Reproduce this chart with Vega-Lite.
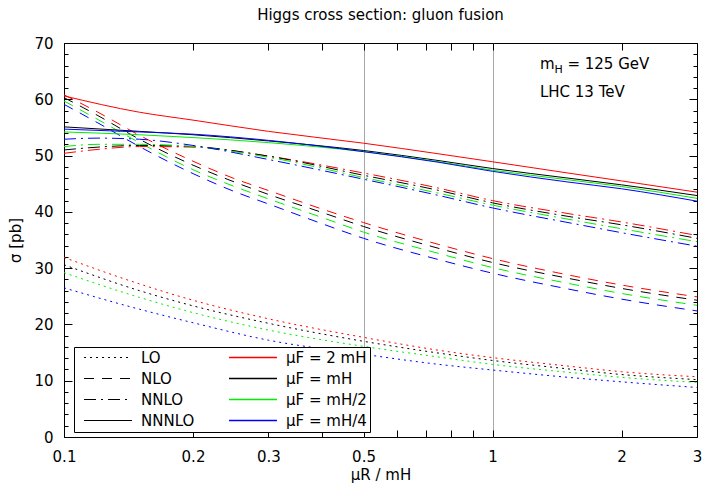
{
  "$schema": "https://vega.github.io/schema/vega-lite/v6.json",
  "width": 633,
  "height": 394,
  "autosize": {"type": "none"},
  "padding": {"left": 64, "top": 43, "right": 8, "bottom": 49},
  "title": {"text": "Higgs cross section: gluon fusion", "fontSize": 15, "font": "DejaVu Sans", "fontWeight": "normal", "color": "black", "offset": 13, "anchor": "middle"},
  "config": {
    "font": "DejaVu Sans",
    "view": {"stroke": "black", "strokeWidth": 1},
    "axis": {"grid": false, "domain": false, "tickColor": "black", "labelColor": "black", "labelFontSize": 15, "labelFont": "DejaVu Sans", "titleFont": "DejaVu Sans", "titleFontSize": 15, "titleFontWeight": "normal", "titleColor": "black", "labelFlush": false, "labelOverlap": false, "labelBound": false, "tickWidth": 1}
  },
  "data": {"values": [
    {"mu":0.1,"sigma":31.9,"order":"LO","muF":"μF = 2 mH"},{"mu":0.15,"sigma":27.2,"order":"LO","muF":"μF = 2 mH"},{"mu":0.2,"sigma":24.3,"order":"LO","muF":"μF = 2 mH"},{"mu":0.3,"sigma":21.0,"order":"LO","muF":"μF = 2 mH"},{"mu":0.5,"sigma":17.7,"order":"LO","muF":"μF = 2 mH"},{"mu":0.75,"sigma":15.4,"order":"LO","muF":"μF = 2 mH"},{"mu":1,"sigma":14.1,"order":"LO","muF":"μF = 2 mH"},{"mu":1.5,"sigma":12.6,"order":"LO","muF":"μF = 2 mH"},{"mu":2,"sigma":11.6,"order":"LO","muF":"μF = 2 mH"},{"mu":3,"sigma":10.7,"order":"LO","muF":"μF = 2 mH"},
    {"mu":0.1,"sigma":30.6,"order":"LO","muF":"μF = mH"},{"mu":0.15,"sigma":26.0,"order":"LO","muF":"μF = mH"},{"mu":0.2,"sigma":23.3,"order":"LO","muF":"μF = mH"},{"mu":0.3,"sigma":20.2,"order":"LO","muF":"μF = mH"},{"mu":0.5,"sigma":17.0,"order":"LO","muF":"μF = mH"},{"mu":0.75,"sigma":14.9,"order":"LO","muF":"μF = mH"},{"mu":1,"sigma":13.6,"order":"LO","muF":"μF = mH"},{"mu":1.5,"sigma":12.1,"order":"LO","muF":"μF = mH"},{"mu":2,"sigma":11.1,"order":"LO","muF":"μF = mH"},{"mu":3,"sigma":10.2,"order":"LO","muF":"μF = mH"},
    {"mu":0.1,"sigma":29.2,"order":"LO","muF":"μF = mH/2"},{"mu":0.15,"sigma":24.8,"order":"LO","muF":"μF = mH/2"},{"mu":0.2,"sigma":22.1,"order":"LO","muF":"μF = mH/2"},{"mu":0.3,"sigma":19.0,"order":"LO","muF":"μF = mH/2"},{"mu":0.5,"sigma":16.1,"order":"LO","muF":"μF = mH/2"},{"mu":0.75,"sigma":14.2,"order":"LO","muF":"μF = mH/2"},{"mu":1,"sigma":12.9,"order":"LO","muF":"μF = mH/2"},{"mu":1.5,"sigma":11.5,"order":"LO","muF":"μF = mH/2"},{"mu":2,"sigma":10.6,"order":"LO","muF":"μF = mH/2"},{"mu":3,"sigma":9.7,"order":"LO","muF":"μF = mH/2"},
    {"mu":0.1,"sigma":26.5,"order":"LO","muF":"μF = mH/4"},{"mu":0.15,"sigma":22.7,"order":"LO","muF":"μF = mH/4"},{"mu":0.2,"sigma":20.3,"order":"LO","muF":"μF = mH/4"},{"mu":0.3,"sigma":17.2,"order":"LO","muF":"μF = mH/4"},{"mu":0.5,"sigma":14.7,"order":"LO","muF":"μF = mH/4"},{"mu":0.75,"sigma":12.9,"order":"LO","muF":"μF = mH/4"},{"mu":1,"sigma":11.9,"order":"LO","muF":"μF = mH/4"},{"mu":1.5,"sigma":10.6,"order":"LO","muF":"μF = mH/4"},{"mu":2,"sigma":9.8,"order":"LO","muF":"μF = mH/4"},{"mu":3,"sigma":8.8,"order":"LO","muF":"μF = mH/4"},

    {"mu":0.1,"sigma":60.8,"order":"NLO","muF":"μF = 2 mH"},{"mu":0.12,"sigma":57.7,"order":"NLO","muF":"μF = 2 mH"},{"mu":0.15,"sigma":53.6,"order":"NLO","muF":"μF = 2 mH"},{"mu":0.2,"sigma":49.0,"order":"NLO","muF":"μF = 2 mH"},{"mu":0.25,"sigma":45.9,"order":"NLO","muF":"μF = 2 mH"},{"mu":0.3,"sigma":43.8,"order":"NLO","muF":"μF = 2 mH"},{"mu":0.4,"sigma":40.5,"order":"NLO","muF":"μF = 2 mH"},{"mu":0.5,"sigma":38.1,"order":"NLO","muF":"μF = 2 mH"},{"mu":0.75,"sigma":34.2,"order":"NLO","muF":"μF = 2 mH"},{"mu":1,"sigma":31.7,"order":"NLO","muF":"μF = 2 mH"},{"mu":1.5,"sigma":28.8,"order":"NLO","muF":"μF = 2 mH"},{"mu":2,"sigma":27.0,"order":"NLO","muF":"μF = 2 mH"},{"mu":3,"sigma":24.9,"order":"NLO","muF":"μF = 2 mH"},
    {"mu":0.1,"sigma":60.3,"order":"NLO","muF":"μF = mH"},{"mu":0.12,"sigma":57.1,"order":"NLO","muF":"μF = mH"},{"mu":0.15,"sigma":52.9,"order":"NLO","muF":"μF = mH"},{"mu":0.2,"sigma":48.3,"order":"NLO","muF":"μF = mH"},{"mu":0.25,"sigma":45.3,"order":"NLO","muF":"μF = mH"},{"mu":0.3,"sigma":43.1,"order":"NLO","muF":"μF = mH"},{"mu":0.4,"sigma":39.9,"order":"NLO","muF":"μF = mH"},{"mu":0.5,"sigma":37.4,"order":"NLO","muF":"μF = mH"},{"mu":0.75,"sigma":33.5,"order":"NLO","muF":"μF = mH"},{"mu":1,"sigma":31.0,"order":"NLO","muF":"μF = mH"},{"mu":1.5,"sigma":28.2,"order":"NLO","muF":"μF = mH"},{"mu":2,"sigma":26.4,"order":"NLO","muF":"μF = mH"},{"mu":3,"sigma":24.3,"order":"NLO","muF":"μF = mH"},
    {"mu":0.1,"sigma":59.7,"order":"NLO","muF":"μF = mH/2"},{"mu":0.12,"sigma":56.4,"order":"NLO","muF":"μF = mH/2"},{"mu":0.15,"sigma":52.3,"order":"NLO","muF":"μF = mH/2"},{"mu":0.2,"sigma":47.5,"order":"NLO","muF":"μF = mH/2"},{"mu":0.25,"sigma":44.5,"order":"NLO","muF":"μF = mH/2"},{"mu":0.3,"sigma":42.3,"order":"NLO","muF":"μF = mH/2"},{"mu":0.4,"sigma":39.0,"order":"NLO","muF":"μF = mH/2"},{"mu":0.5,"sigma":36.4,"order":"NLO","muF":"μF = mH/2"},{"mu":0.75,"sigma":32.6,"order":"NLO","muF":"μF = mH/2"},{"mu":1,"sigma":30.1,"order":"NLO","muF":"μF = mH/2"},{"mu":1.5,"sigma":27.3,"order":"NLO","muF":"μF = mH/2"},{"mu":2,"sigma":25.5,"order":"NLO","muF":"μF = mH/2"},{"mu":3,"sigma":23.4,"order":"NLO","muF":"μF = mH/2"},
    {"mu":0.1,"sigma":59.1,"order":"NLO","muF":"μF = mH/4"},{"mu":0.12,"sigma":55.8,"order":"NLO","muF":"μF = mH/4"},{"mu":0.15,"sigma":51.6,"order":"NLO","muF":"μF = mH/4"},{"mu":0.2,"sigma":46.8,"order":"NLO","muF":"μF = mH/4"},{"mu":0.25,"sigma":43.6,"order":"NLO","muF":"μF = mH/4"},{"mu":0.3,"sigma":41.4,"order":"NLO","muF":"μF = mH/4"},{"mu":0.4,"sigma":37.9,"order":"NLO","muF":"μF = mH/4"},{"mu":0.5,"sigma":35.3,"order":"NLO","muF":"μF = mH/4"},{"mu":0.75,"sigma":31.5,"order":"NLO","muF":"μF = mH/4"},{"mu":1,"sigma":29.1,"order":"NLO","muF":"μF = mH/4"},{"mu":1.5,"sigma":26.3,"order":"NLO","muF":"μF = mH/4"},{"mu":2,"sigma":24.5,"order":"NLO","muF":"μF = mH/4"},{"mu":3,"sigma":22.4,"order":"NLO","muF":"μF = mH/4"},

    {"mu":0.1,"sigma":50.4,"order":"NNLO","muF":"μF = 2 mH"},{"mu":0.12,"sigma":51.1,"order":"NNLO","muF":"μF = 2 mH"},{"mu":0.15,"sigma":51.6,"order":"NNLO","muF":"μF = 2 mH"},{"mu":0.2,"sigma":51.5,"order":"NNLO","muF":"μF = 2 mH"},{"mu":0.3,"sigma":49.9,"order":"NNLO","muF":"μF = 2 mH"},{"mu":0.5,"sigma":46.9,"order":"NNLO","muF":"μF = 2 mH"},{"mu":0.75,"sigma":44.2,"order":"NNLO","muF":"μF = 2 mH"},{"mu":1,"sigma":42.0,"order":"NNLO","muF":"μF = 2 mH"},{"mu":1.5,"sigma":39.7,"order":"NNLO","muF":"μF = 2 mH"},{"mu":2,"sigma":38.2,"order":"NNLO","muF":"μF = 2 mH"},{"mu":3,"sigma":35.8,"order":"NNLO","muF":"μF = 2 mH"},
    {"mu":0.1,"sigma":51.0,"order":"NNLO","muF":"μF = mH"},{"mu":0.12,"sigma":51.5,"order":"NNLO","muF":"μF = mH"},{"mu":0.15,"sigma":51.8,"order":"NNLO","muF":"μF = mH"},{"mu":0.2,"sigma":51.6,"order":"NNLO","muF":"μF = mH"},{"mu":0.3,"sigma":49.9,"order":"NNLO","muF":"μF = mH"},{"mu":0.5,"sigma":46.5,"order":"NNLO","muF":"μF = mH"},{"mu":0.75,"sigma":43.8,"order":"NNLO","muF":"μF = mH"},{"mu":1,"sigma":41.6,"order":"NNLO","muF":"μF = mH"},{"mu":1.5,"sigma":39.2,"order":"NNLO","muF":"μF = mH"},{"mu":2,"sigma":37.7,"order":"NNLO","muF":"μF = mH"},{"mu":3,"sigma":35.3,"order":"NNLO","muF":"μF = mH"},
    {"mu":0.1,"sigma":51.6,"order":"NNLO","muF":"μF = mH/2"},{"mu":0.12,"sigma":52.0,"order":"NNLO","muF":"μF = mH/2"},{"mu":0.15,"sigma":52.0,"order":"NNLO","muF":"μF = mH/2"},{"mu":0.2,"sigma":51.6,"order":"NNLO","muF":"μF = mH/2"},{"mu":0.3,"sigma":49.7,"order":"NNLO","muF":"μF = mH/2"},{"mu":0.5,"sigma":46.1,"order":"NNLO","muF":"μF = mH/2"},{"mu":0.75,"sigma":43.3,"order":"NNLO","muF":"μF = mH/2"},{"mu":1,"sigma":41.2,"order":"NNLO","muF":"μF = mH/2"},{"mu":1.5,"sigma":38.7,"order":"NNLO","muF":"μF = mH/2"},{"mu":2,"sigma":37.0,"order":"NNLO","muF":"μF = mH/2"},{"mu":3,"sigma":34.7,"order":"NNLO","muF":"μF = mH/2"},
    {"mu":0.1,"sigma":52.9,"order":"NNLO","muF":"μF = mH/4"},{"mu":0.12,"sigma":53.1,"order":"NNLO","muF":"μF = mH/4"},{"mu":0.15,"sigma":52.9,"order":"NNLO","muF":"μF = mH/4"},{"mu":0.2,"sigma":51.8,"order":"NNLO","muF":"μF = mH/4"},{"mu":0.3,"sigma":49.3,"order":"NNLO","muF":"μF = mH/4"},{"mu":0.5,"sigma":45.8,"order":"NNLO","muF":"μF = mH/4"},{"mu":0.75,"sigma":42.9,"order":"NNLO","muF":"μF = mH/4"},{"mu":1,"sigma":40.7,"order":"NNLO","muF":"μF = mH/4"},{"mu":1.5,"sigma":38.1,"order":"NNLO","muF":"μF = mH/4"},{"mu":2,"sigma":36.3,"order":"NNLO","muF":"μF = mH/4"},{"mu":3,"sigma":33.9,"order":"NNLO","muF":"μF = mH/4"},

    {"mu":0.1,"sigma":60.6,"order":"NNNLO","muF":"μF = 2 mH"},{"mu":0.15,"sigma":57.7,"order":"NNNLO","muF":"μF = 2 mH"},{"mu":0.2,"sigma":56.3,"order":"NNNLO","muF":"μF = 2 mH"},{"mu":0.3,"sigma":54.3,"order":"NNNLO","muF":"μF = 2 mH"},{"mu":0.5,"sigma":52.2,"order":"NNNLO","muF":"μF = 2 mH"},{"mu":0.75,"sigma":50.3,"order":"NNNLO","muF":"μF = 2 mH"},{"mu":1,"sigma":48.9,"order":"NNNLO","muF":"μF = 2 mH"},{"mu":1.5,"sigma":46.9,"order":"NNNLO","muF":"μF = 2 mH"},{"mu":2,"sigma":45.5,"order":"NNNLO","muF":"μF = 2 mH"},{"mu":3,"sigma":43.5,"order":"NNNLO","muF":"μF = 2 mH"},
    {"mu":0.1,"sigma":55.1,"order":"NNNLO","muF":"μF = mH"},{"mu":0.15,"sigma":54.3,"order":"NNNLO","muF":"μF = mH"},{"mu":0.2,"sigma":53.7,"order":"NNNLO","muF":"μF = mH"},{"mu":0.3,"sigma":52.6,"order":"NNNLO","muF":"μF = mH"},{"mu":0.5,"sigma":50.9,"order":"NNNLO","muF":"μF = mH"},{"mu":0.75,"sigma":49.1,"order":"NNNLO","muF":"μF = mH"},{"mu":1,"sigma":47.7,"order":"NNNLO","muF":"μF = mH"},{"mu":1.5,"sigma":46.0,"order":"NNNLO","muF":"μF = mH"},{"mu":2,"sigma":44.8,"order":"NNNLO","muF":"μF = mH"},{"mu":3,"sigma":42.9,"order":"NNNLO","muF":"μF = mH"},
    {"mu":0.1,"sigma":54.2,"order":"NNNLO","muF":"μF = mH/2"},{"mu":0.15,"sigma":53.7,"order":"NNNLO","muF":"μF = mH/2"},{"mu":0.2,"sigma":53.2,"order":"NNNLO","muF":"μF = mH/2"},{"mu":0.3,"sigma":52.3,"order":"NNNLO","muF":"μF = mH/2"},{"mu":0.5,"sigma":50.7,"order":"NNNLO","muF":"μF = mH/2"},{"mu":0.75,"sigma":48.9,"order":"NNNLO","muF":"μF = mH/2"},{"mu":1,"sigma":47.4,"order":"NNNLO","muF":"μF = mH/2"},{"mu":1.5,"sigma":45.7,"order":"NNNLO","muF":"μF = mH/2"},{"mu":2,"sigma":44.5,"order":"NNNLO","muF":"μF = mH/2"},{"mu":3,"sigma":42.4,"order":"NNNLO","muF":"μF = mH/2"},
    {"mu":0.1,"sigma":54.7,"order":"NNNLO","muF":"μF = mH/4"},{"mu":0.15,"sigma":54.2,"order":"NNNLO","muF":"μF = mH/4"},{"mu":0.2,"sigma":53.8,"order":"NNNLO","muF":"μF = mH/4"},{"mu":0.3,"sigma":52.7,"order":"NNNLO","muF":"μF = mH/4"},{"mu":0.5,"sigma":50.7,"order":"NNNLO","muF":"μF = mH/4"},{"mu":0.75,"sigma":48.8,"order":"NNNLO","muF":"μF = mH/4"},{"mu":1,"sigma":47.2,"order":"NNNLO","muF":"μF = mH/4"},{"mu":1.5,"sigma":45.3,"order":"NNNLO","muF":"μF = mH/4"},{"mu":2,"sigma":44.1,"order":"NNNLO","muF":"μF = mH/4"},{"mu":3,"sigma":41.9,"order":"NNNLO","muF":"μF = mH/4"}
  ]},
  "layer": [
    {
      "mark": {"type": "line", "strokeWidth": 1, "interpolate": "monotone", "clip": true},
      "encoding": {
        "x": {"field": "mu", "type": "quantitative", "scale": {"type": "log", "domain": [0.1, 3], "nice": false},
              "axis": {"orient": "bottom", "values": [0.1,0.2,0.3,0.4,0.5,0.6,0.7,0.8,0.9,1,2,3], "format": "~g",
                       "labelExpr": "indexof([0.1,0.2,0.3,0.5,1,2,3], datum.value) >= 0 ? datum.label : ''",
                       "tickSize": -7, "labelPadding": 19, "title": "μR / mH", "titlePadding": 3}},
        "y": {"field": "sigma", "type": "quantitative", "scale": {"domain": [0, 70], "nice": false, "zero": true},
              "axis": {"orient": "left", "values": [0,10,20,30,40,50,60,70], "tickSize": -8, "labelPadding": 19, "title": "σ [pb]", "titlePadding": 10}},
        "color": {"field": "muF", "type": "nominal",
                  "scale": {"domain": ["μF = 2 mH", "μF = mH", "μF = mH/2", "μF = mH/4"], "range": ["#ff0000", "#000000", "#00ee00", "#0000ff"]},
                  "legend": {"title": null, "orient": "none", "legendX": 10, "legendY": 304, "symbolType": "M-5,0H5", "symbolSize": 92, "symbolStrokeWidth": 1.5, "symbolFillColor": "transparent", "symbolOffset": 168.5, "labelOffset": 25.5, "padding": 3, "rowPadding": 5, "labelFontSize": 15, "labelColor": "black", "strokeColor": "black", "fillColor": "white", "zindex": 0, "labelLimit": 300}},
        "strokeDash": {"field": "order", "type": "nominal",
                  "scale": {"domain": ["LO", "NLO", "NNLO", "NNNLO"], "range": [[2,4],[10,8],[12,5,2,5],[1000,0]]},
                  "legend": {"title": null, "orient": "none", "legendX": 10, "legendY": 304, "symbolType": "M-5,0H5", "symbolSize": 92, "symbolStrokeWidth": 1, "symbolStrokeColor": "black", "symbolFillColor": "transparent", "symbolOffset": 23.5, "labelOffset": 25.5, "padding": 3, "rowPadding": 5, "labelFontSize": 15, "labelColor": "black", "zindex": 1}}
      }
    },
    {
      "data": {"values": [{"label": "LHC 13 TeV"}]},
      "mark": {"type": "text", "align": "left", "baseline": "alphabetic", "fontSize": 15, "color": "black"},
      "encoding": {
        "x": {"datum": 1.29, "type": "quantitative", "scale": {"type": "log", "domain": [0.1, 3], "nice": false},
              "axis": {"orient": "top", "values": [0.1,0.2,0.3,0.4,0.5,0.6,0.7,0.8,0.9,1,2,3], "labels": false, "tickSize": -7, "title": null}},
        "y": {"datum": 60.4, "type": "quantitative",
              "axis": {"orient": "right", "values": [0,10,20,30,40,50,60,70], "labels": false, "tickSize": -8, "title": null}},
        "text": {"field": "label"}
      }
    },
    {
      "data": {"values": [{"label": "m"}]},
      "mark": {"type": "text", "align": "left", "baseline": "alphabetic", "fontSize": 15, "color": "black"},
      "encoding": {
        "x": {"datum": 1.29, "type": "quantitative",
              "axis": {"orient": "bottom", "values": [0.5, 1], "grid": true, "gridColor": "#a8a8a8", "gridWidth": 1, "ticks": false, "labels": false, "title": null}},
        "y": {"datum": 65.4, "type": "quantitative",
              "axis": {"orient": "left", "values": [2,4,6,8,12,14,16,18,22,24,26,28,32,34,36,38,42,44,46,48,52,54,56,58,62,64,66,68], "labels": false, "tickSize": -4, "title": null}},
        "text": {"field": "label"}
      }
    },
    {
      "data": {"values": [{"label": "H"}]},
      "mark": {"type": "text", "align": "left", "baseline": "alphabetic", "fontSize": 11, "color": "black", "dx": 14.6, "dy": 4},
      "encoding": {
        "x": {"datum": 1.29, "type": "quantitative", "axis": null},
        "y": {"datum": 65.4, "type": "quantitative",
              "axis": {"orient": "right", "values": [2,4,6,8,12,14,16,18,22,24,26,28,32,34,36,38,42,44,46,48,52,54,56,58,62,64,66,68], "labels": false, "tickSize": -4, "title": null}},
        "text": {"field": "label"}
      }
    },
    {
      "data": {"values": [{"label": "= 125 GeV"}]},
      "mark": {"type": "text", "align": "left", "baseline": "alphabetic", "fontSize": 15, "color": "black", "dx": 27.5},
      "encoding": {
        "x": {"datum": 1.29, "type": "quantitative", "axis": null},
        "y": {"datum": 65.4, "type": "quantitative", "axis": null},
        "text": {"field": "label"}
      }
    }
  ],
  "resolve": {"axis": {"x": "independent", "y": "independent"}}
}
